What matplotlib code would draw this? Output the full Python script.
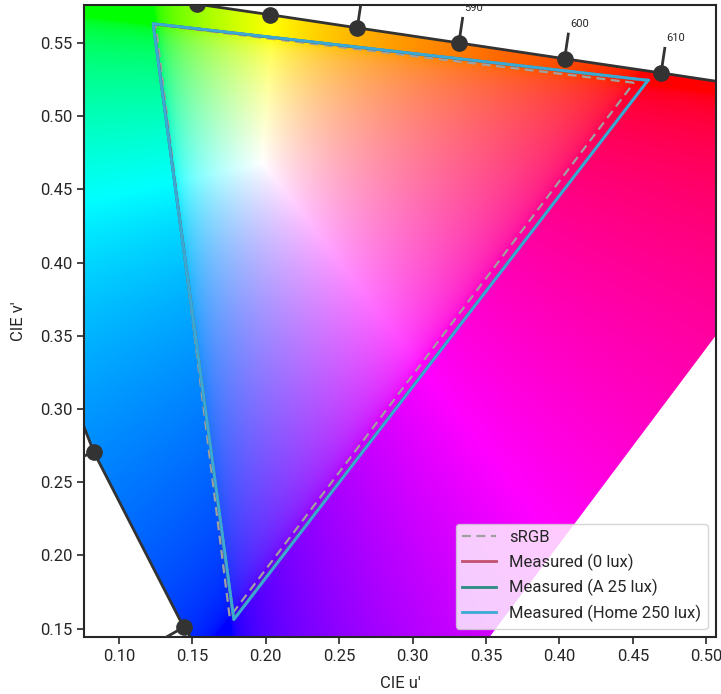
import numpy as np
import matplotlib
matplotlib.use("Agg")
import matplotlib.pyplot as plt
from matplotlib.path import Path
from matplotlib.patches import PathPatch

# spectral locus, CIE 1976 u'v' (2 degree observer)
wavelengths = [380, 400, 410, 420, 430, 440, 450, 460, 470, 480, 490,
               500, 505, 510, 520, 530, 540, 550, 555, 560, 565, 570, 575, 580, 585,
               590, 595, 600, 605, 610, 615, 620, 630, 640, 650, 700]
locus_u = [0.2568, 0.2557, 0.2545, 0.2522, 0.2461, 0.2347, 0.2161, 0.1877, 0.1441,
           0.0828, 0.0282, 0.0035, 0.0014, 0.0046, 0.0231, 0.0501, 0.0792,
           0.1127, 0.1319, 0.1531, 0.1766, 0.2026, 0.2312, 0.2623, 0.2960, 0.3315, 0.3681,
           0.4035, 0.4379, 0.4692, 0.4968, 0.5203, 0.5565, 0.5830, 0.6005, 0.6234]
locus_v = [0.0166, 0.0159, 0.0159, 0.0169, 0.0226, 0.0350, 0.0549, 0.0871, 0.1510,
           0.2708, 0.4117, 0.5131, 0.5432, 0.5638, 0.5837, 0.5868, 0.5856,
           0.5821, 0.5796, 0.5766, 0.5732, 0.5694, 0.5651, 0.5604, 0.5554, 0.5501, 0.5446,
           0.5393, 0.5342, 0.5296, 0.5254, 0.5219, 0.5165, 0.5125, 0.5099, 0.5065]

dot_wavelengths = [460, 470, 480, 490, 500, 510, 520, 530, 540, 550, 560, 570, 580, 590, 600, 610]
tick_wavelengths = [470, 480, 580, 590, 600, 610]
text_wavelengths = [590, 600, 610]

# gamut triangles (R, G, B, R)
srgb_u = [0.4507, 0.1250, 0.1754, 0.4507]
srgb_v = [0.5229, 0.5625, 0.1579, 0.5229]
lux0_u = [0.4600, 0.1234, 0.1781, 0.4600]
lux0_v = [0.5244, 0.5631, 0.1564, 0.5244]
lux25_u = [0.4602, 0.1233, 0.1782, 0.4602]
lux25_v = [0.5245, 0.5632, 0.1563, 0.5245]
lux250_u = [0.4604, 0.1232, 0.1783, 0.4604]
lux250_v = [0.5246, 0.5633, 0.1562, 0.5246]

xlim = (0.0762, 0.5066)
ylim = (0.1443, 0.5760)

plt.rcParams['font.family'] = ['Roboto', 'DejaVu Sans']
plt.rcParams['text.color'] = '#262626'
plt.rcParams['axes.labelcolor'] = '#262626'
plt.rcParams['xtick.color'] = '#262626'
plt.rcParams['ytick.color'] = '#262626'


def uv_to_rgb(u, v):
    d = 6 * u - 16 * v + 12
    x = 9 * u / d
    y = 4 * v / d
    XYZ = np.stack([x / y, np.ones_like(x), (1 - x - y) / y], -1)
    M = np.array([[3.2406, -1.5372, -0.4986],
                  [-0.9689, 1.8758, 0.0415],
                  [0.0557, -0.2040, 1.0570]])
    rgb = XYZ @ M.T
    enc = np.where(rgb <= 0.0031308, rgb * 12.92, 1.055 * np.abs(rgb) ** (1 / 2.4) - 0.055)
    enc = enc / enc.max(-1, keepdims=True)
    return np.clip(enc, 0, 1)


fig = plt.figure(figsize=(7.21, 6.94), dpi=100)
ax = fig.add_axes([84 / 721, 57 / 694, 632 / 721, 632 / 694])

# filled chromaticity background, clipped to the locus
uu, vv = np.meshgrid(np.linspace(xlim[0], xlim[1], 500), np.linspace(ylim[0], ylim[1], 500))
img = uv_to_rgb(uu, vv)
poly = np.column_stack([locus_u + [locus_u[0]], locus_v + [locus_v[0]]])
patch = PathPatch(Path(poly), facecolor='none', edgecolor='none', transform=ax.transData)
ax.add_patch(patch)
im = ax.imshow(img, origin='lower', extent=(xlim[0], xlim[1], ylim[0], ylim[1]),
               aspect='auto', interpolation='bilinear', zorder=0)
im.set_clip_path(patch)

# locus outline (no purple line)
ax.plot(locus_u, locus_v, color='#333333', lw=2.0, zorder=2)

# wavelength ticks and labels
pts = np.column_stack([locus_u, locus_v])
white = np.array([0.1978, 0.4683])
for w in dot_wavelengths:
    i = wavelengths.index(w)
    p = pts[i]
    ax.plot(p[0], p[1], 'o', color='#333333', ms=11, zorder=4)
    if w in tick_wavelengths:
        t = pts[i + 1] - pts[i - 1]
        n = np.array([t[1], -t[0]])
        n = n / np.hypot(*n)
        if np.dot(n, p - white) < 0:
            n = -n
        e = p + n * 0.017
        ax.plot([p[0], e[0]], [p[1], e[1]], color='#333333', lw=2.0, zorder=3)
        if w in text_wavelengths:
            q = p + n * 0.024
            ax.text(q[0], q[1], str(w), fontsize=8, ha='left' if n[0] >= 0 else 'right',
                    va='center', clip_on=True, zorder=5)

ax.plot(srgb_u, srgb_v, '--', color='#a0a0a0', lw=1.6, dashes=(4, 2.5), label='sRGB', zorder=6)
ax.plot(lux0_u, lux0_v, color='#c2506e', lw=2.0, label='Measured (0 lux)', zorder=7)
ax.plot(lux25_u, lux25_v, color='#2a8c82', lw=2.0, label='Measured (A 25 lux)', zorder=8)
ax.plot(lux250_u, lux250_v, color='#3aa9d6', lw=2.0, label='Measured (Home 250 lux)', zorder=9)

ax.set_xlim(*xlim)
ax.set_ylim(*ylim)
ax.set_xticks(np.arange(0.10, 0.501, 0.05))
ax.set_yticks(np.arange(0.15, 0.551, 0.05))
ax.tick_params(labelsize=12, length=5, width=1.2)
for s in ax.spines.values():
    s.set_linewidth(1.5)
    s.set_color('#262626')
ax.set_xlabel("CIE u'", fontsize=12, labelpad=9)
ax.set_ylabel("CIE v'", fontsize=12, labelpad=10)

leg = ax.legend(loc='lower right', fontsize=12, fancybox=True, framealpha=0.8)
leg.get_frame().set_edgecolor('#cccccc')

fig.savefig('out.png', dpi=100)
